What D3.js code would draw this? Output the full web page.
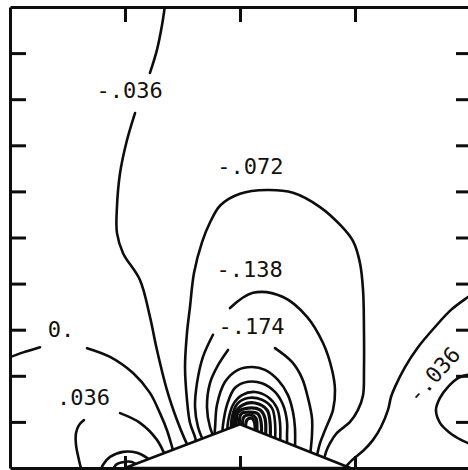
<!DOCTYPE html>
<html>
<head>
<meta charset="utf-8">
<script src="https://cdn.jsdelivr.net/npm/d3@7"></script>
<style>
  body { margin: 0; background: #fff; }
  .lbl { font-family: "DejaVu Sans Mono", monospace; font-size: 22px; fill: #111; }
</style>
</head>
<body>
<div id="chart"></div>
<script>
// contour traces (x from 0 to 4, y from 0 to 10)
const xTicks = [1, 2, 3];
const yTicks = [1, 2, 3, 4, 5, 6, 7, 8, 9];

const wedge = [[1.0, 0], [2.0, 0.95], [2.96, 0]];

// -.036 (left, broken by its label)
const m036TopA = [[1.348, 10.04], [1.322, 9.61], [1.278, 9.07], [1.217, 8.57]];
const m036TopB = [[1.087, 7.70], [1.017, 7.11], [0.957, 6.40], [0.930, 5.66], [0.930, 5.10], [0.983, 4.66],
  [1.130, 4.08], [1.217, 3.28], [1.278, 2.56], [1.365, 1.69], [1.452, 1.04], [1.522, 0.61], [1.565, 0.39]];
// 0.
const zeroA = [[-0.043, 2.34], [0.009, 2.41], [0.130, 2.52], [0.261, 2.62]];
const zeroB = [[0.670, 2.60], [0.870, 2.41], [1.070, 2.06], [1.217, 1.63], [1.304, 1.19], [1.365, 0.82],
  [1.409, 0.46], [1.435, 0.22]];
// .036
const p036A = [[0.626, -0.09], [0.600, 0.17], [0.574, 0.50], [0.574, 0.76], [0.600, 0.93], [0.643, 1.04]];
const p036B = [[0.957, 1.19], [1.130, 0.98], [1.278, 0.61], [1.357, 0.22]];
// small loops at the left foot of the wedge
const p072 = [[0.783, -0.09], [0.809, 0.07], [0.870, 0.24], [0.983, 0.35], [1.104, 0.33], [1.191, 0.22], [1.235, 0.13]];
const p108 = [[0.887, -0.09], [0.922, 0.07], [0.991, 0.13], [1.061, 0.13], [1.113, 0.04]];
// -.072 dome
const m072 = [[1.626, 0.46], [1.609, 0.67], [1.565, 0.98], [1.539, 1.48], [1.522, 2.19], [1.539, 2.93],
  [1.565, 3.49], [1.600, 4.23], [1.670, 4.90], [1.740, 5.33], [1.830, 5.70], [2.0, 5.95], [2.235, 6.03],
  [2.461, 5.97], [2.696, 5.66], [2.880, 5.25], [2.983, 4.92], [3.043, 4.45], [3.070, 3.86], [3.078, 2.99],
  [3.078, 2.13], [3.070, 1.58], [3.026, 1.26], [2.957, 1.00], [2.843, 0.76], [2.783, 0.54], [2.748, 0.35], [2.730, 0.17]];
// -.138
const m138A = [[1.696, 0.50], [1.635, 0.89], [1.609, 1.32], [1.626, 1.84], [1.678, 2.41], [1.765, 2.89]];
const m138B = [[1.913, 3.47], [2.113, 3.80], [2.374, 3.71], [2.583, 3.28], [2.722, 2.71], [2.800, 2.13],
  [2.826, 1.69], [2.809, 1.26], [2.739, 0.82], [2.696, 0.54], [2.661, 0.17]];
// -.174
const m174A = [[1.783, 0.61], [1.739, 0.89], [1.713, 1.32], [1.739, 1.84], [1.809, 2.23], [1.896, 2.56]];
const m174B = [[2.304, 2.60], [2.452, 2.30], [2.539, 1.95], [2.591, 1.52], [2.626, 1.08], [2.626, 0.72], [2.609, 0.26]];
// nested contours crowding over the apex
const m210 = [[1.774, 0.61], [1.783, 0.87], [1.8, 1.37], [1.870, 1.87], [1.983, 2.13], [2.104, 2.19], [2.217, 2.13],
  [2.330, 1.91], [2.417, 1.58], [2.461, 1.21], [2.478, 0.87], [2.478, 0.39]];
const m246 = [[1.843, 0.61], [1.852, 0.93], [1.887, 1.37], [1.957, 1.74], [2.070, 1.87], [2.191, 1.84],
  [2.304, 1.65], [2.374, 1.37], [2.409, 1.00], [2.409, 0.72], [2.409, 0.43]];
const m282 = [[1.887, 0.61], [1.896, 1.00], [1.939, 1.37], [2.017, 1.58], [2.130, 1.65], [2.243, 1.54],
  [2.322, 1.30], [2.348, 0.98], [2.348, 0.50]];
const m318 = [[1.922, 0.61], [1.930, 1.11], [1.983, 1.41], [2.070, 1.52], [2.191, 1.48], [2.278, 1.30], [2.304, 1.00], [2.304, 0.50]];
const m354 = [[1.948, 0.61], [1.957, 1.19], [2.026, 1.37], [2.130, 1.41], [2.235, 1.26], [2.261, 1.00], [2.261, 0.50]];
const m390 = [[1.974, 0.61], [1.983, 1.21], [2.070, 1.30], [2.174, 1.26], [2.217, 1.08], [2.217, 0.50]];
const m426 = [[2.0, 0.61], [2.009, 1.17], [2.087, 1.21], [2.157, 1.17], [2.183, 1.00], [2.183, 0.50]];
const m462 = [[2.026, 0.61], [2.035, 1.11], [2.096, 1.15], [2.139, 1.08], [2.148, 0.82], [2.148, 0.50]];
const m498 = [[2.05, 0.61], [2.06, 1.04], [2.10, 1.08], [2.125, 1.00], [2.125, 0.50]];
// right side
const m036Right = [[4.017, 3.77], [3.983, 3.71], [3.835, 3.43], [3.696, 3.06], [3.548, 2.62], [3.435, 2.19],
  [3.348, 1.76], [3.313, 1.54], [3.287, 1.26], [3.226, 0.89], [3.157, 0.61], [3.078, 0.39], [2.974, 0.17], [2.896, -0.04]];
const m072Right = [[4.017, 2.02], [3.983, 2.02], [3.896, 1.95], [3.809, 1.76], [3.739, 1.52], [3.704, 1.26],
  [3.739, 0.98], [3.826, 0.76], [3.922, 0.61], [3.983, 0.54], [4.017, 0.50]];

const contours = [m036TopA, m036TopB, zeroA, zeroB, p036A, p036B, p072, p108, m072, m138A, m138B,
  m174A, m174B, m210, m246, m282, m318, m036Right, m072Right];
const coreContours = [m354, m390, m426, m462, m498];

const labelText = ["-.036", "-.072", "-.138", "-.174", "0.", ".036", "-.036"];
const labelAt = [[1.04, 8.03], [2.09, 6.38], [2.083, 4.14], [2.1, 2.91], [0.443, 2.84], [0.64, 1.37], [3.687, 2.02]];
const labelAngle = [0, 0, 0, 0, 0, 0, -48];

window.onload = function () {
    const W = 468, H = 470;
    const left = 10, top = 7, right = 470, bottom = 468;

    const x = d3.scaleLinear().domain([0, 4]).range([left, right]);
    const y = d3.scaleLinear().domain([0, 10]).range([bottom, top]);

    const svg = d3.select('#chart').append('svg')
        .attr('width', W).attr('height', H)
        .style('display', 'block').style('background', '#fff');

    svg.append('clipPath').attr('id', 'plot')
        .append('rect')
        .attr('x', left).attr('y', top)
        .attr('width', right - left).attr('height', bottom - top);

    const line = d3.line()
        .x(d => x(d[0])).y(d => y(d[1]))
        .curve(d3.curveCatmullRom.alpha(0.5));

    // contour lines
    const plot = svg.append('g').attr('clip-path', 'url(#plot)');
    plot.selectAll('path.c').data(contours).enter().append('path')
        .attr('class', 'c')
        .attr('d', line)
        .attr('fill', 'none')
        .attr('stroke', '#0d0d0d')
        .attr('stroke-width', 2.6)
        .attr('stroke-linecap', 'round');

    // the crowded ones just above the apex run together into a blot
    plot.selectAll('path.core').data(coreContours).enter().append('path')
        .attr('class', 'core')
        .attr('d', line)
        .attr('fill', 'none')
        .attr('stroke', '#0d0d0d')
        .attr('stroke-width', 3.2);

    // the wedge, blanks what lies inside it
    svg.append('path')
        .attr('d', d3.line().x(d => x(d[0])).y(d => y(d[1]))(wedge) + 'Z')
        .attr('fill', '#fff')
        .attr('stroke', '#0d0d0d')
        .attr('stroke-width', 2.6)
        .attr('stroke-linejoin', 'round');

    // frame with inward ticks
    const axes = [
        [d3.axisLeft(y).tickValues(yTicks).tickSize(-16), 'translate(' + left + ',0)'],
        [d3.axisRight(y).tickValues(yTicks).tickSize(-14), 'translate(' + right + ',0)'],
        [d3.axisTop(x).tickValues(xTicks).tickSize(-15), 'translate(0,' + top + ')'],
        [d3.axisBottom(x).tickValues(xTicks).tickSize(-12), 'translate(0,' + bottom + ')']
    ];
    axes.forEach(function (a) {
        const g = svg.append('g').attr('transform', a[1])
            .call(a[0].tickSizeOuter(0).tickFormat(''));
        g.selectAll('.domain, .tick line')
            .attr('stroke', '#0d0d0d').attr('stroke-width', 3);
    });

    // contour labels
    svg.append('g').selectAll('text').data(labelText).enter().append('text')
        .attr('class', 'lbl')
        .attr('text-anchor', 'middle')
        .attr('dominant-baseline', (d, i) => labelAngle[i] ? 'central' : 'auto')
        .attr('transform', (d, i) => 'translate(' + x(labelAt[i][0]) + ',' + y(labelAt[i][1]) + ') rotate(' + labelAngle[i] + ')')
        .text(d => d);
};
</script>
</body>
</html>
